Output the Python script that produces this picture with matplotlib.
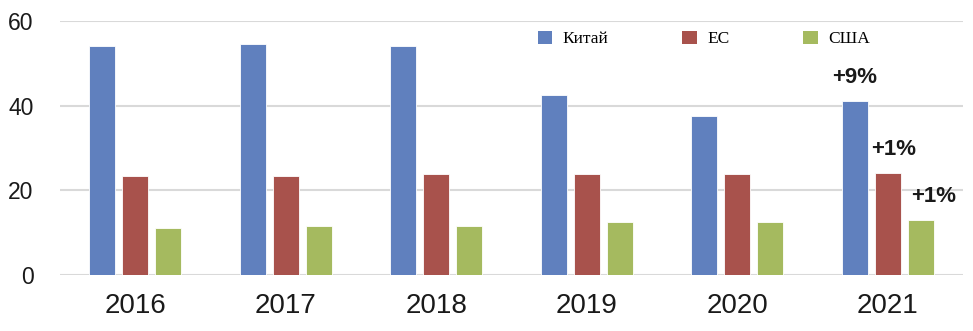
import matplotlib.pyplot as plt
import numpy as np
from matplotlib.patches import Patch

years = ["2016", "2017", "2018", "2019", "2020", "2021"]
series_names = ["Китай", "ЕС", "США"]
china = [54.1, 54.6, 54.1, 42.5, 37.6, 41.2]
eu = [23.4, 23.4, 23.9, 23.9, 23.9, 24.0]
usa = [11.1, 11.6, 11.6, 12.5, 12.5, 13.0]
growth_labels = ["+9%", "+1%", "+1%"]
yticks = [0, 20, 40, 60]

colors = ["#6080BE", "#A8524C", "#A5BA5F"]

fig = plt.figure(figsize=(9.73, 3.31), dpi=100)
ax = fig.add_axes([60 / 973, 56 / 331, 903 / 973, 254 / 331])

x = np.arange(len(years))
step = 0.22
width = 0.173
all_series = [china, eu, usa]
for i, (vals, col) in enumerate(zip(all_series, colors)):
    ax.bar(x + (i - 1) * step, vals, width=width, color=col, zorder=3,
           edgecolor="white", linewidth=0.6)

# growth annotations over the latest year, shifted right for the shorter bars
label_shift = [0.0, 0.04, 0.085]
for i, (vals, lab) in enumerate(zip(all_series, growth_labels)):
    xpos = x[-1] + (i - 1) * step + label_shift[i]
    ax.annotate(lab, (xpos, vals[-1]), xytext=(0, 13), textcoords="offset points",
                ha="center", va="baseline", fontsize=16, fontweight="bold",
                family="Liberation Sans", color="#1a1a1a")

ax.set_xlim(-0.5, len(years) - 0.5)
ax.set_ylim(0, 60)
ax.set_yticks(yticks)
ax.set_xticks(x)
ax.set_xticklabels(years, fontsize=20, family="Liberation Sans")
for t in ax.get_yticklabels():
    t.set_fontsize(16.5)
    t.set_family("Liberation Sans")
ax.tick_params(axis="both", length=0, colors="#1a1a1a")
ax.tick_params(axis="y", pad=19)
ax.tick_params(axis="x", pad=13)
ax.grid(axis="y", color="#D9D9D9", linewidth=1.5, zorder=0)
for s in ax.spines.values():
    s.set_visible(False)

handles = [Patch(facecolor=c, edgecolor="none") for c in colors]
fig.legend(handles, series_names, loc="center left",
           bbox_to_anchor=(522 / 973, 1 - 39 / 331), ncol=3, frameon=False,
           prop={"family": "Liberation Serif", "size": 12.5},
           handlelength=0.84, handleheight=0.84, handletextpad=0.6,
           columnspacing=4.25)

fig.savefig("out.png", dpi=100)
